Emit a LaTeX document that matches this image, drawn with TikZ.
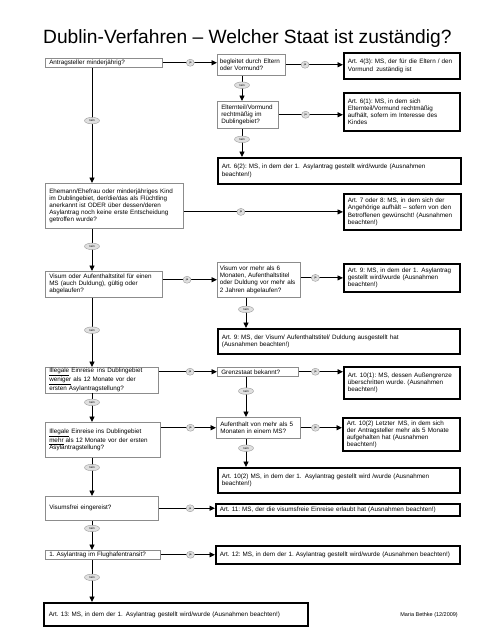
\documentclass[tikz,border=0pt]{standalone}
\usepackage{fontspec}
\setmainfont{Liberation Sans}
\usepackage{tikz}
\usetikzlibrary{shapes.geometric}
\usetikzlibrary{arrows.meta}
\frenchspacing
\hyphenpenalty=10000
\exhyphenpenalty=10000

\tikzset{
  qbox/.style={draw=black!45, line width=0.5pt, fill=white, anchor=north west, inner xsep=4pt, inner ysep=1pt, align=left, font=\fontsize{6.3}{7.1}\selectfont},
  abox/.style={qbox, draw=black, line width=1.8pt},
  conn/.style={line width=0.9pt, ->, >={Triangle[length=5.5pt,width=5pt]}},
  jalbl/.style={ellipse, draw=black!40, fill=black!12, line width=0.4pt, minimum width=8pt, minimum height=7pt, inner sep=0pt, font=\fontsize{3}{3}\selectfont},
  neinlbl/.style={jalbl, minimum width=15pt, minimum height=6.5pt}
}

\begin{document}
\begin{tikzpicture}[x=1pt, y=-1pt]
\useasboundingbox (0,0) rectangle (480,640);
\node[anchor=base west, inner sep=0pt, font=\fontsize{19.2}{22}\selectfont] (title) at (43,43) {Dublin-Verfahren -- Welcher Staat ist zuständig?};
\coordinate (mc) at (92,0);
\coordinate (rc) at (242,0);
\coordinate (rd) at (246,0);
% questions
\node[qbox, text width=109pt, minimum height=9pt] (q1) at (45,58) {Antragsteller minderjährig?};
\node[qbox, inner xsep=2.5pt, text width=63pt, minimum height=21pt] (q2) at (217,54) {begleitet durch Eltern\\oder Vormund?};
\node[qbox, text width=53pt, minimum height=27pt] (q3) at (217,101) {Elternteil/Vormund\\rechtmäßig im\\Dublingebiet?};
\node[qbox, text width=130pt, minimum height=45pt] (q4) at (45,183) {Ehemann/Ehefrau oder minderjähriges Kind\\im Dublingebiet, der/die/das als Flüchtling\\anerkannt ist ODER über dessen/deren\\Asylantrag noch keine erste Entscheidung\\getroffen wurde?};
\node[qbox, text width=109pt, minimum height=26pt] (q5) at (45,271) {Visum oder Aufenthaltstitel für einen\\MS (auch Duldung), gültig oder\\abgelaufen?};
\node[qbox, inner xsep=2.5pt, text width=78pt, minimum height=35pt] (q6) at (217,262) {Visum vor mehr als 6\\Monaten, Aufenthaltstitel\\oder Duldung vor mehr als\\2 Jahren abgelaufen?};
\node[qbox, text width=105pt, minimum height=24pt] (q7) at (45,367) {\underline{Illegale} Einreise\, ins Dublingebiet\\\underline{weniger} als 12 Monate vor der\\ersten Asylantragstellung?};
\node[qbox, text width=73pt, minimum height=9pt] (q8) at (217,367) {Grenzstaat bekannt?};
\node[qbox, text width=107pt, minimum height=35pt] (q9) at (45,422) {\underline{Illegale} Einreise ins Dublingebiet\\\underline{mehr} als 12 Monate vor der ersten\\Asylantragstellung?};
\node[qbox, text width=76pt, minimum height=21pt] (q10) at (216,417) {Aufenthalt von mehr als 5\\Monaten in einem MS?};
\node[qbox, text width=105pt, minimum height=24pt] (q11) at (45,496) {Visumsfrei eingereist?};
\node[qbox, text width=107pt, minimum height=9pt] (q12) at (45,550) {1. Asylantrag im Flughafentransit?};
% answers
\node[abox, text width=108pt, minimum height=26pt] (a1) at (343,52) {Art. 4(3): MS, der für die Eltern / den\\Vormund\, zuständig ist};
\node[abox, text width=108pt, minimum height=38pt] (a2) at (343,92) {Art. 6(1): MS, in dem sich\\Elternteil/Vormund rechtmäßig\\aufhält, sofern im Interesse des\\Kindes};
\node[abox, text width=235pt, minimum height=26pt] (a3) at (217,157) {Art. 6(2): MS, in dem der 1.\, Asylantrag gestellt wird/wurde (Ausnahmen\\beachten!)};
\node[abox, text width=109pt, minimum height=36pt] (a4) at (343,193) {Art. 7 oder 8: MS, in dem sich der\\Angehörige aufhält -- sofern von den\\Betroffenen gewünscht! (Ausnahmen\\beachten!)};
\node[abox, text width=108pt, minimum height=28pt] (a5) at (343,263) {Art. 9: MS, in dem der 1.\, Asylantrag\\gestellt wird/wurde (Ausnahmen\\beachten!)};
\node[abox, text width=234pt, minimum height=25pt] (a6) at (217,328) {Art. 9: MS, der Visum/ Aufenthaltstitel/ Duldung ausgestellt hat\\(Ausnahmen beachten!)};
\node[abox, text width=108pt, minimum height=32pt] (a7) at (343,366) {Art. 10(1): MS, dessen Außengrenze\\überschritten wurde. (Ausnahmen\\beachten!)};
\node[abox, text width=109pt, minimum height=33pt] (a8) at (342,417) {Art. 10(2) Letzter\, MS, in dem sich\\der Antragsteller mehr als 5 Monate\\aufgehalten hat (Ausnahmen\\beachten!)};
\node[abox, text width=234pt, minimum height=25pt] (a9) at (217,467) {Art. 10(2) MS, in dem der 1.\, Asylantrag gestellt wird /wurde (Ausnahmen\\beachten!)};
\node[abox, text width=236pt, minimum height=12pt] (a10) at (215,503) {Art. 11: MS, der die visumsfreie Einreise erlaubt hat (Ausnahmen beachten!)};
\node[abox, text width=236pt, minimum height=18pt] (a11) at (215,545) {Art. 12: MS, in dem der 1. Asylantrag gestellt wird/wurde (Ausnahmen beachten!)};
\node[abox, text width=254pt, minimum height=23pt, inner xsep=5pt] (a12) at (43,602) {Art. 13: MS, in dem der 1.\, Asylantrag gestellt wird/wurde (Ausnahmen beachten!)};
\node[anchor=east, inner sep=0pt, font=\fontsize{5.5}{6}\selectfont] (sig) at (458,615) {Maria Bethke (12/2009)};
% ja
\draw[conn] (q1.east) -- node[jalbl, pos=.51] (j1) {ja} (q1.east -| q2.west);
\draw[conn] (q2.east) -- node[jalbl, pos=.34] (j2) {ja} (q2.east -| a1.west);
\draw[conn] (q3.east) -- node[jalbl, pos=.42] (j3) {ja} (q3.east -| a2.west);
\draw[conn] (a4.west -| q4.east) -- node[jalbl, pos=.36] (j4) {ja} (a4.west);
\draw[conn] (q6.west -| q5.east) -- node[jalbl, pos=.45] (j5) {ja} (q6.west);
\draw[conn] (a5.west -| q6.east) -- node[jalbl, pos=.35] (j6) {ja} (a5.west);
\draw[conn] (q8.west -| q7.east) -- node[jalbl, pos=.54] (j7) {ja} (q8.west);
\draw[conn] (q8.east) -- node[jalbl, pos=.38] (j8) {ja} (q8.east -| a7.west);
\draw[conn] (q10.west -| q9.east) -- node[jalbl, pos=.54] (j9) {ja} (q10.west);
\draw[conn] (q10.east) -- node[jalbl, pos=.36] (j10) {ja} (q10.east -| a8.west);
\draw[conn] (q11.east) -- node[jalbl, pos=.56] (j11) {ja} (q11.east -| a10.west);
\draw[conn] (q12.east) -- node[jalbl, pos=.55] (j12) {ja} (q12.east -| a11.west);
% nein
\draw[conn] (q1.south -| mc) -- node[neinlbl, pos=.46] (n1) {nein} (q4.north -| mc);
\draw[conn] (q4.south -| mc) -- node[neinlbl, pos=.42] (n2) {nein} (q5.north -| mc);
\draw[conn] (q5.south -| mc) -- node[neinlbl, pos=.47] (n3) {nein} (q7.north -| mc);
\draw[conn] (q7.south -| mc) -- node[neinlbl, pos=.32] (n4) {nein} (q9.north -| mc);
\draw[conn] (q9.south -| mc) -- node[neinlbl, pos=.26] (n5) {nein} (q11.north -| mc);
\draw[conn] (q11.south -| mc) -- node[neinlbl, pos=.27] (n6) {nein} (q12.north -| mc);
\draw[conn] (q12.south -| mc) -- node[neinlbl, pos=.42] (n7) {nein} (a12.north -| mc);
\draw[conn] (q2.south -| rc) -- node[neinlbl, pos=.38] (n8) {nein} (q3.north -| rc);
\draw[conn] (q3.south -| rc) -- node[neinlbl, pos=.38] (n9) {nein} (a3.north -| rc);
\draw[conn] (q6.south -| rd) -- node[neinlbl, pos=.39] (n10) {nein} (a6.north -| rd);
\draw[conn] (q8.south -| rd) -- node[neinlbl, pos=.36] (n11) {nein} (q10.north -| rd);
\draw[conn] (q10.south -| rd) -- node[neinlbl, pos=.34] (n12) {nein} (a9.north -| rd);
\end{tikzpicture}
\end{document}
